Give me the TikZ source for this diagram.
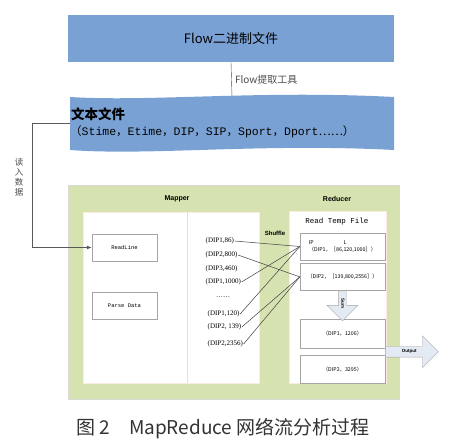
\documentclass[tikz,border=0pt]{standalone}
\usepackage{fontspec}
\setmainfont{Liberation Serif}
\setsansfont{Liberation Sans}
\setmonofont{Liberation Mono}
\newfontfamily\cjk{Noto Sans CJK SC}
\usepackage{tikz}
\usetikzlibrary{positioning,arrows.meta,calc,shapes.arrows}
\definecolor{flowblue}{RGB}{122,161,212}
\definecolor{mrgreen}{RGB}{214,226,176}
\definecolor{divorange}{RGB}{250,218,186}
\definecolor{boxgray}{RGB}{165,165,165}
\definecolor{arrowfill}{RGB}{228,234,244}
\newcommand{\fw}[1]{{\cjk #1}}

\begin{document}
\begin{tikzpicture}[
    x=1pt, y=-1pt,
    >={Latex[length=5pt,width=4pt]},
    bluebox/.style={fill=flowblue, minimum width=326pt, minimum height=47pt, inner sep=0pt},
    area/.style={draw=divorange!50, fill=white, inner sep=0pt},
    mapbox/.style={draw=boxgray, fill=white, minimum width=65pt, minimum height=27pt,
                   font=\ttfamily\fontsize{5.5}{6}\selectfont},
    redbox/.style={draw=boxgray, fill=white, minimum width=85pt, align=left,
                   font=\cjk\fontsize{5.3}{7.5}\selectfont},
    kv/.style={anchor=west, inner sep=0.5pt, font=\fontsize{7}{8}\selectfont},
    lbl/.style={font=\sffamily\bfseries\fontsize{7}{8}\selectfont},
    link/.style={draw=black!75, line width=0.5pt},
    fat/.style={single arrow, draw=boxgray, fill=arrowfill, single arrow head indent=0pt,
                inner xsep=1pt, font=\sffamily\bfseries\fontsize{4.5}{5}\selectfont},
    node distance=6pt,
  ]
    \useasboundingbox (0,0) rectangle (450,444);

    \node[bluebox] (flow) at (231,38.5) {\cjk\fontsize{13}{15}\selectfont Flow二进制文件};
    \node[minimum width=324pt, minimum height=53pt, inner sep=0pt] (doc) at (232,123.5) {};
    \fill[flowblue] (70,97) .. controls (150,102) and (260,90) .. (394,97)
        -- (394,150) .. controls (260,143) and (150,156) .. (70,150) -- cycle;
    \node[anchor=west, inner sep=0pt, font=\cjk\bfseries\fontsize{13.5}{15}\selectfont] (doctitle) at (71,114) {文本文件};
    \node[anchor=west, inner sep=0pt, font=\ttfamily\fontsize{11.5}{13}\selectfont] (docfields) at (70,132)
        {\fw{（}Stime\fw{，}Etime\fw{，}DIP\fw{，}SIP\fw{，}Sport\fw{，}Dport\fw{……）}};

    \node[draw=gray!30, fill=mrgreen, minimum width=331pt, minimum height=214pt, inner sep=0pt] (mr) at (233.5,292) {};
    \node[area, minimum width=176pt, minimum height=171pt] (mapper) at (171,297.5) {};
    \node[area, minimum width=97pt, minimum height=172pt] (reducer) at (337.5,297) {};
    \draw[divorange] (mapper.north -| 187,0) -- (mapper.south -| 187,0);

    \node[lbl] (maplbl) at (177,199) {Mapper};
    \node[lbl] (redlbl) at (337,199) {Reducer};
    \node[lbl, font=\sffamily\bfseries\fontsize{6}{7}\selectfont] (shuf) at (275,233) {Shuffle};

    \node[mapbox] (readline) at (124.5,247.5) {ReadLine};
    \node[mapbox, below=31pt of readline] (parse) {Parse Data};

    \node[kv] (k1) at (205,241) {(DIP1,86)};
    \node[kv] (k2) at (205,255) {(DIP2,800)};
    \node[kv] (k3) at (205,269) {(DIP3,460)};
    \node[kv] (k4) at (205,282) {(DIP1,1000)};
    \node[kv, anchor=center] (kdots) at (223,297) {\dots\dots};
    \node[kv] (k5) at (207,314) {(DIP1,120)};
    \node[kv] (k6) at (207,327) {(DIP2, 139)};
    \node[kv] (k7) at (207,344) {(DIP2,2356)};

    \node[font=\ttfamily\fontsize{7.5}{8}\selectfont] (rtf) at (337,222) {Read Temp File};
    \node[redbox, minimum height=27pt] (rbox1) at (342.5,246.5)
        {IP\hspace{30pt}L\\（DIP1，［86,120,1000］）};
    \node[redbox, minimum height=27pt, below=3pt of rbox1] (rbox2) {（DIP2，［139,800,2556］）};
    \node[redbox, minimum height=29pt] (rbox3) at (342.5,333.5) {（DIP1，1206）};
    \node[redbox, minimum height=28pt, below=7pt of rbox3] (rbox4) {（DIP2，3295）};

    \foreach \k/\r in {k1/rbox1, k4/rbox1, k5/rbox1, k2/rbox2, k6/rbox2, k7/rbox2}
      \draw[link] (\k.east) -- (\r.west);

    \node[fat, rotate=-90, minimum height=30pt, single arrow head extend=11.5pt,
          text height=3pt, text depth=0.5pt, inner ysep=2pt, anchor=tail] (sum) at (rbox2.south) {Sum};
    \node[fat, minimum height=53pt, single arrow head extend=10.5pt,
          text height=3.5pt, text depth=1pt, inner ysep=3pt, anchor=tail] (out)
          at ($(rbox3.south east)!0.5!(rbox4.north east)$) {Output};

    \draw[black!70] (flow.south) -- (doc.north)
        node[midway, right, font=\cjk\fontsize{10}{12}\selectfont] (tool) {Flow提取工具};
    \draw[->, gray!70!black, line width=0.8pt] (doc.west) -- ++(-37,0) |- (readline.west);
    \node[align=center, text=black!70, font=\cjk\fontsize{8.5}{10}\selectfont] (readlbl) at (19,177) {读\\入\\数\\据};

    \node[text=black!80, font=\cjk\fontsize{19}{21}\selectfont] (cap) at (223,429)
        {图 2\quad MapReduce 网络流分析过程};
  \end{tikzpicture}
\end{document}
